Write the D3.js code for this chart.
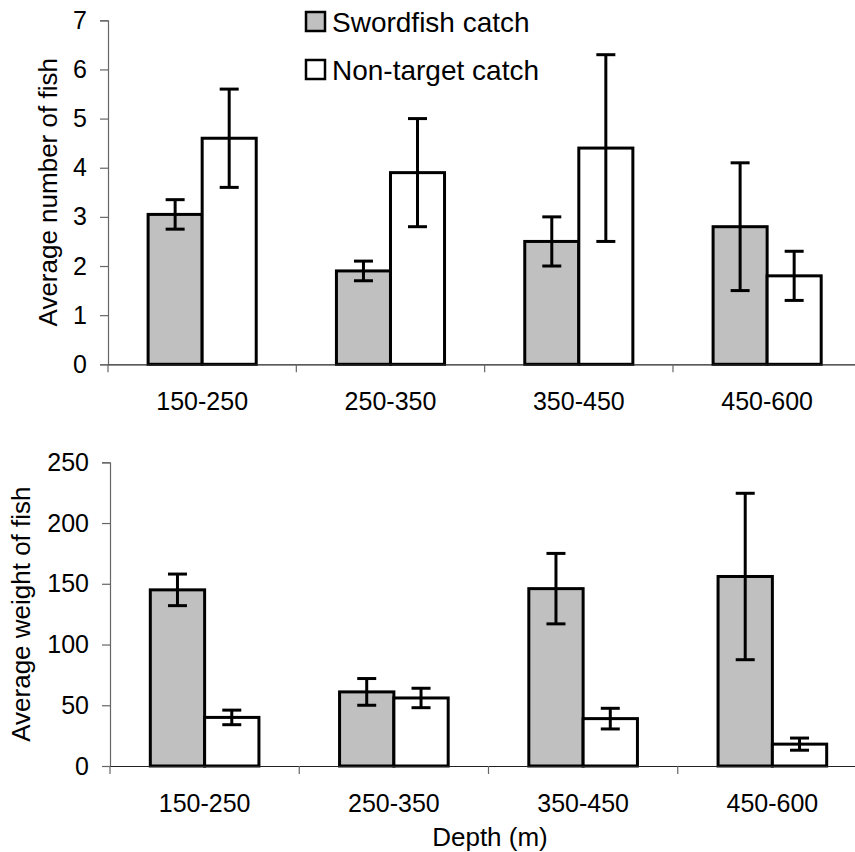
<!DOCTYPE html>
<html>
<head>
<meta charset="utf-8">
<script src="https://cdn.jsdelivr.net/npm/d3@7"></script>
<style>
  html, body { margin: 0; padding: 0; background: #fff; }
  svg { display: block; }
  text { font-family: "Liberation Sans", Arial, sans-serif; fill: #000; }
</style>
</head>
<body>
<svg id="chart" width="855" height="852"></svg>
<script>
// ---- Data ----
const categories = ["150-250", "250-350", "350-450", "450-600"];
const seriesNames = ["Swordfish catch", "Non-target catch"];
const seriesColors = ["#c0c0c0", "#ffffff"];

// Top panel: average number of fish
const numberSwordfish = [3.05, 1.9, 2.5, 2.8];
const numberSwordfishErr = [0.3, 0.2, 0.5, 1.3];
const numberNonTarget = [4.6, 3.9, 4.4, 1.8];
const numberNonTargetErr = [1.0, 1.1, 1.9, 0.5];
const numberTicks = [0, 1, 2, 3, 4, 5, 6, 7];

// Bottom panel: average weight of fish
const weightSwordfish = [145, 61, 146, 156];
const weightSwordfishErr = [13, 11, 29, 68.5];
const weightNonTarget = [40, 56, 39, 18];
const weightNonTargetErr = [6, 8, 8.5, 5];
const weightTicks = [0, 50, 100, 150, 200, 250];

const xTitle = "Depth (m)";
const yTitleTop = "Average number of fish";
const yTitleBottom = "Average weight of fish";

// ---- Drawing ----
const svg = d3.select("#chart");

function panel(cfg) {
  const g = svg.append("g");
  const x0 = d3.scaleBand().domain(categories).range([cfg.left, cfg.right]).padding(0);
  const bw = x0.bandwidth();
  const gw = bw * 0.574;
  const x1 = d3.scaleBand().domain(seriesNames).range([(bw - gw) / 2, (bw + gw) / 2]).padding(0);
  const y = d3.scaleLinear().domain([0, cfg.max]).range([cfg.bottom, cfg.top]);

  const rows = [];
  categories.forEach((c, i) => {
    rows.push({ cat: c, s: 0, v: cfg.vals[0][i], e: cfg.errs[0][i] });
    rows.push({ cat: c, s: 1, v: cfg.vals[1][i], e: cfg.errs[1][i] });
  });

  // y axis
  const yAxis = d3.axisLeft(y).tickValues(cfg.ticks).tickSize(8).tickPadding(13).tickFormat(d3.format("d"));
  const ya = g.append("g").attr("transform", `translate(${cfg.left},0)`).call(yAxis);
  ya.select(".domain").attr("stroke", "#666").attr("stroke-width", 1.2);
  ya.selectAll(".tick line").attr("stroke", "#666").attr("stroke-width", 1.2);
  ya.selectAll(".tick text").attr("font-size", 25).attr("font-family", "Liberation Sans, Arial, sans-serif").attr("fill", "#000");

  // bars
  g.selectAll("rect.bar").data(rows).enter().append("rect")
    .attr("class", "bar")
    .attr("x", d => x0(d.cat) + x1(seriesNames[d.s]))
    .attr("y", d => y(d.v))
    .attr("width", x1.bandwidth())
    .attr("height", d => y(0) - y(d.v))
    .attr("fill", d => seriesColors[d.s])
    .attr("stroke", "#000")
    .attr("stroke-width", 3);

  // x axis
  const xAxis = d3.axisBottom(x0).tickSize(0).tickPadding(0).tickFormat("");
  const xa = g.append("g").attr("transform", `translate(0,${cfg.bottom})`).call(xAxis);
  xa.select(".domain").attr("stroke", "#222").attr("stroke-width", 1.2);
  xa.selectAll(".tick").remove();
  // tick marks at band boundaries
  const bounds = categories.map(c => x0(c));
  g.selectAll("line.xtick").data(bounds).enter().append("line")
    .attr("x1", d => d).attr("x2", d => d)
    .attr("y1", cfg.bottom).attr("y2", cfg.bottom + 8)
    .attr("stroke", "#666").attr("stroke-width", 1.2);
  g.selectAll("text.xlab").data(categories).enter().append("text")
    .attr("x", d => x0(d) + bw / 2)
    .attr("y", cfg.labelY)
    .attr("text-anchor", "middle")
    .attr("font-size", 25)
    .text(d => d);

  // error bars
  const capW = 19;
  const eb = g.selectAll("g.err").data(rows).enter().append("g").attr("class", "err");
  const cx = d => x0(d.cat) + x1(seriesNames[d.s]) + x1.bandwidth() / 2;
  eb.append("line").attr("x1", cx).attr("x2", cx)
    .attr("y1", d => y(d.v + d.e)).attr("y2", d => y(d.v - d.e))
    .attr("stroke", "#000").attr("stroke-width", 3);
  eb.append("line").attr("x1", d => cx(d) - capW / 2).attr("x2", d => cx(d) + capW / 2)
    .attr("y1", d => y(d.v + d.e)).attr("y2", d => y(d.v + d.e))
    .attr("stroke", "#000").attr("stroke-width", 3);
  eb.append("line").attr("x1", d => cx(d) - capW / 2).attr("x2", d => cx(d) + capW / 2)
    .attr("y1", d => y(d.v - d.e)).attr("y2", d => y(d.v - d.e))
    .attr("stroke", "#000").attr("stroke-width", 3);

  // y title
  g.append("text")
    .attr("transform", `translate(${cfg.yTitleX},${(cfg.top + cfg.bottom) / 2}) rotate(-90)`)
    .attr("text-anchor", "middle")
    .attr("font-size", 26)
    .text(cfg.yTitle);
  return { x0, y };
}

panel({
  left: 108, right: 861.3, top: 20.3, bottom: 364.3, max: 7,
  vals: [numberSwordfish, numberNonTarget], errs: [numberSwordfishErr, numberNonTargetErr],
  ticks: numberTicks, labelY: 410, yTitle: yTitleTop, yTitleX: 57
});

panel({
  left: 110, right: 867, top: 462.3, bottom: 766, max: 250,
  vals: [weightSwordfish, weightNonTarget], errs: [weightSwordfishErr, weightNonTargetErr],
  ticks: weightTicks, labelY: 811.5, yTitle: yTitleBottom, yTitleX: 30
});

// x title
svg.append("text").attr("x", 490).attr("y", 846).attr("text-anchor", "middle")
  .attr("font-size", 26).text(xTitle);

// legend
const leg = svg.append("g");
seriesNames.forEach((s, i) => {
  const ly = 12 + i * 48;
  leg.append("rect").attr("x", 306).attr("y", ly).attr("width", 19).attr("height", 19)
    .attr("fill", seriesColors[i]).attr("stroke", "#000").attr("stroke-width", 2.5);
  leg.append("text").attr("x", 332).attr("y", ly + 20).attr("font-size", 28).text(s);
});
</script>
</body>
</html>
